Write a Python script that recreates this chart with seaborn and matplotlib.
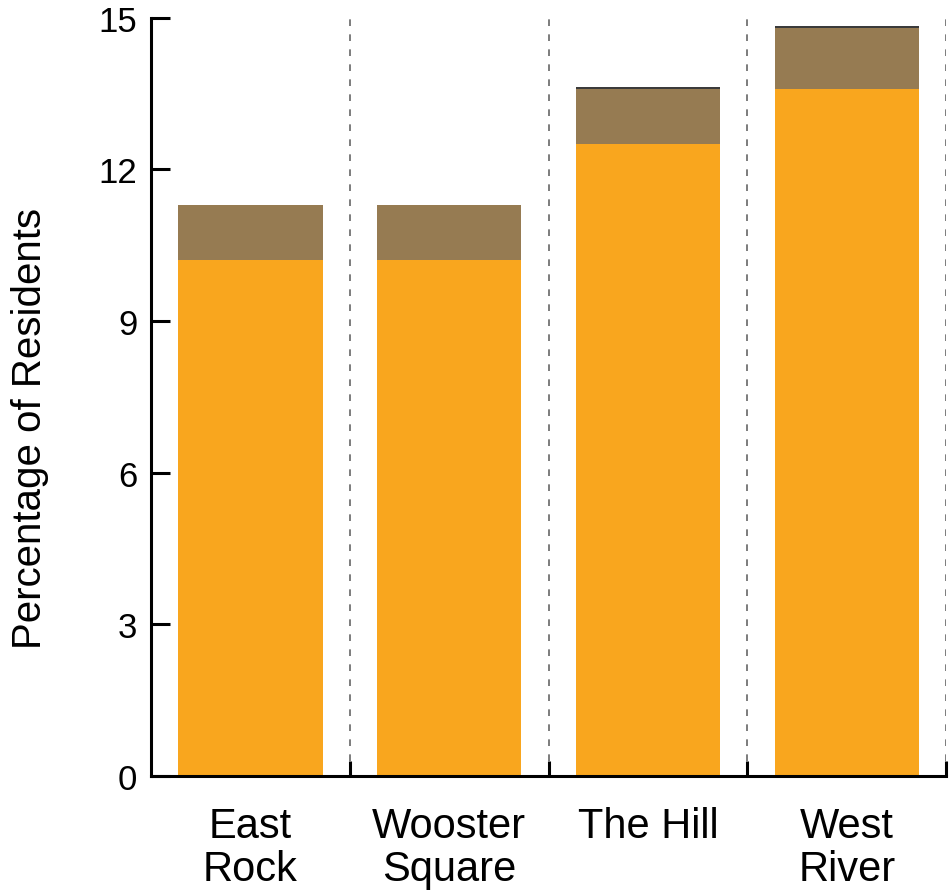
import numpy as np
import pandas as pd
import seaborn as sns
import matplotlib.pyplot as plt
from matplotlib.ticker import FixedLocator

# data
neighborhoods = ["East\nRock", "Wooster\nSquare", "The Hill", "West\nRiver"]
lower_share = [10.2, 10.2, 12.5, 13.6]
upper_share = [1.1, 1.1, 1.1, 1.2]
top_sliver = [0.0, 0.0, 0.04, 0.04]

df = pd.DataFrame({"hood": neighborhoods, "lower": lower_share,
                   "upper": upper_share, "sliver": top_sliver})

sns.set_style("white")
plt.rcParams['font.family'] = ['Liberation Sans', 'DejaVu Sans']
plt.rcParams.update({"text.color": "black", "axes.labelcolor": "black",
                     "xtick.color": "black", "ytick.color": "black"})

fig = plt.figure(figsize=(9.5, 8.95), dpi=100)
ax = fig.add_axes([0.159, 0.132, 0.837, 0.847])

bar_w = 0.725
sns.barplot(data=df, x="hood", y="lower", color="#F9A61E", saturation=1,
            width=bar_w, ax=ax, linewidth=0)
sns.barplot(data=df, x="hood", y="upper", bottom=df["lower"], color="#967B52",
            saturation=1, width=bar_w, ax=ax, linewidth=0)
sns.barplot(data=df, x="hood", y="sliver", bottom=df["lower"] + df["upper"],
            color="#3b3b3b", saturation=1, width=bar_w, ax=ax, linewidth=0)

ax.set_xlim(-0.5, 3.5)
ax.set_ylim(0, 15)
ax.set_yticks([0, 3, 6, 9, 12, 15])

# dashed separators between neighborhoods
for xs in [0.5, 1.5, 2.5, 3.5]:
    ax.axvline(xs, color="#666666", linestyle=(0, (4, 5)), linewidth=1.2, zorder=0)

sns.despine(ax=ax, top=True, right=True)
for side in ["left", "bottom"]:
    ax.spines[side].set_linewidth(2.2)
    ax.spines[side].set_color("black")

ax.xaxis.set_minor_locator(FixedLocator([0.5, 1.5, 2.5, 3.5]))
ax.tick_params(axis="x", which="major", length=0, labelsize=30, pad=22,
               labelcolor="black")
ax.tick_params(axis="x", which="minor", direction="in", length=11, width=2.2,
               color="black", bottom=True)
ax.tick_params(axis="y", direction="in", length=14, width=2.2, color="black",
               labelsize=25, pad=10, left=True, labelcolor="black")
for lab in ax.get_xticklabels():
    lab.set_verticalalignment("top")
    lab.set_linespacing(1.08)

ax.set_xlabel("")
ax.set_ylabel("Percentage of Residents", fontsize=29, color="black")
ax.yaxis.set_label_coords(-0.128, 0.46)

fig.savefig("out.png", dpi=100)
